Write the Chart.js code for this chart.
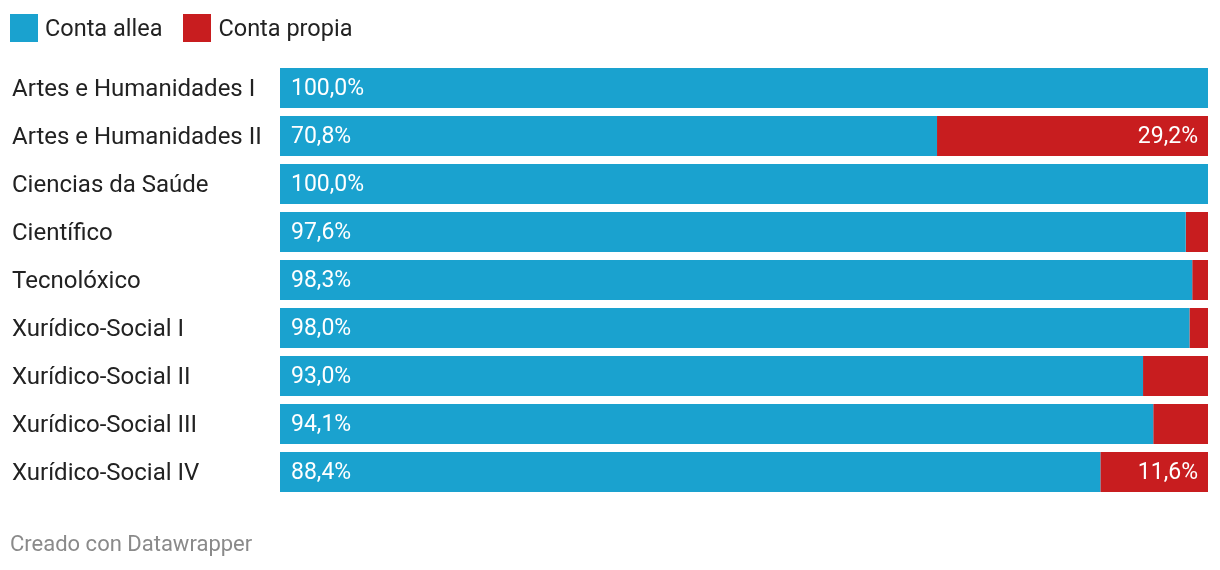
<!DOCTYPE html>
<html>
<head>
<meta charset="utf-8">
<script src="https://cdn.jsdelivr.net/npm/chart.js@4"></script>
<style>
  body { margin: 0; background: #fff; font-family: Roboto, sans-serif; }
  #wrap { position: relative; width: 1220px; height: 570px; }
  #legend { position: absolute; left: 10px; top: 14px; height: 28px; display: flex; font-size: 23.5px; color: #222; }
  .item { display: flex; align-items: center; margin-right: 21px; }
  .box { width: 28px; height: 28px; margin-right: 7px; }
  #footer { position: absolute; left: 10px; top: 531px; font-size: 22px; color: #8a8a8a; }
  canvas { position: absolute; left: 0; top: 0; }
</style>
</head>
<body>
<div id="wrap">
  <canvas id="chart" width="1220" height="570"></canvas>
  <div id="legend"></div>
  <div id="footer">Creado con Datawrapper</div>
</div>
<script>
const categories = ["Artes e Humanidades I", "Artes e Humanidades II", "Ciencias da Saúde", "Científico", "Tecnolóxico", "Xurídico-Social I", "Xurídico-Social II", "Xurídico-Social III", "Xurídico-Social IV"]
const contaAllea = [100.0, 70.8, 100.0, 97.6, 98.3, 98.0, 93.0, 94.1, 88.4]
const contaPropia = [0, 29.2, 0, 2.4, 1.7, 2.0, 7.0, 5.9, 11.6]
const seriesNames = ["Conta allea", "Conta propia"]
const colors = ["#1aa2cf", "#c81d1f"]

// legend
const legend = document.getElementById("legend")
seriesNames.forEach((name, i) => {
    const item = document.createElement("div")
    item.className = "item"
    const box = document.createElement("div")
    box.className = "box"
    box.style.background = colors[i]
    const txt = document.createElement("span")
    txt.textContent = name
    item.appendChild(box)
    item.appendChild(txt)
    legend.appendChild(item)
})

const fmt = v => v.toFixed(1).replace(".", ",") + "%"

// value labels inside bars
const barLabels = {
    id: "barLabels",
    afterDatasetsDraw(chart) {
        const ctx = chart.ctx
        ctx.save()
        ctx.font = "23px Roboto"
        ctx.fillStyle = "#fff"
        ctx.textBaseline = "middle"
        chart.getDatasetMeta(0).data.forEach((bar, i) => {
            ctx.textAlign = "left"
            ctx.fillText(fmt(contaAllea[i]), bar.base + 11, bar.y + 1.5)
        })
        chart.getDatasetMeta(1).data.forEach((bar, i) => {
            if (contaPropia[i] < 10) return
            ctx.textAlign = "right"
            ctx.fillText(fmt(contaPropia[i]), bar.x - 10, bar.y + 1.5)
        })
        ctx.restore()
    }
}

new Chart(document.getElementById("chart").getContext("2d"), {
    type: "bar",
    data: {
        labels: categories,
        datasets: [
            { label: seriesNames[0], data: contaAllea, backgroundColor: colors[0] },
            { label: seriesNames[1], data: contaPropia, backgroundColor: colors[1] }
        ]
    },
    options: {
        indexAxis: "y",
        responsive: false,
        animation: false,
        layout: { padding: { left: 12, right: 12, top: 64, bottom: 74 } },
        datasets: { bar: { categoryPercentage: 1, barPercentage: 40 / 48 } },
        plugins: { legend: { display: false }, tooltip: { enabled: false } },
        scales: {
            x: { stacked: true, min: 0, max: 100, display: false },
            y: {
                stacked: true,
                grid: { display: false },
                border: { display: false },
                ticks: { crossAlign: "far", color: "#222", font: { family: "Roboto", size: 24 }, padding: 0, labelOffset: 2 },
                afterFit: scale => { scale.width = 268 }
            }
        }
    },
    plugins: [barLabels]
})
</script>
</body>
</html>
